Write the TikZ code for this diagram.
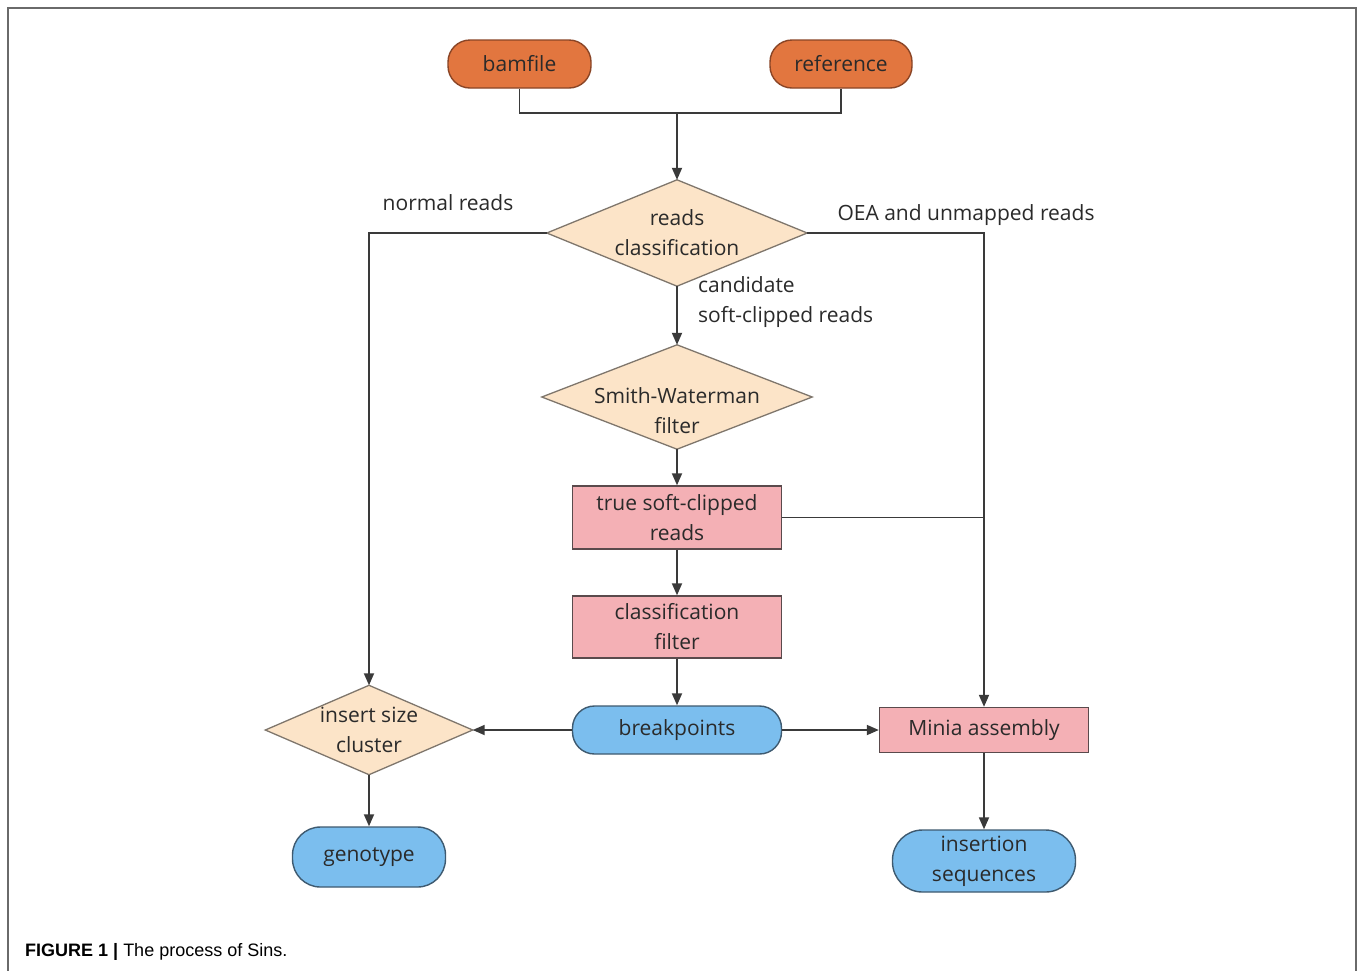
\documentclass[tikz,border=0pt]{standalone}
\usepackage{fontspec}
\setmainfont{Open Sans}
\newfontfamily\capfont{Liberation Sans}
\usetikzlibrary{arrows.meta}
\definecolor{orangefill}{HTML}{E2763F}
\definecolor{orangeline}{HTML}{8A4526}
\definecolor{peach}{HTML}{FCE4C8}
\definecolor{peachline}{HTML}{7F766C}
\definecolor{pinkfill}{HTML}{F4B0B5}
\definecolor{pinkline}{HTML}{5A4A4C}
\definecolor{bluefill}{HTML}{7BBEEE}
\definecolor{blueline}{HTML}{3E5A70}
\definecolor{linecol}{HTML}{3A3A3A}
\definecolor{txtcol}{HTML}{2A2A2A}
\definecolor{framecol}{HTML}{6A6A6A}
\tikzset{
  base/.style={inner sep=0pt, align=center, text=txtcol, font=\fontsize{21}{30}\selectfont},
  pillbox/.style={base, rounded corners=22pt, line width=1.4pt},
  startpill/.style={pillbox, fill=orangefill, draw=orangeline},
  endpill/.style={pillbox, fill=bluefill, draw=blueline},
  procbox/.style={base, fill=pinkfill, draw=pinkline, line width=1.4pt},
  decbox/.style={base},
  decshape/.style={fill=peach, draw=peachline, line width=1.3pt},
  conn/.style={draw=linecol, line width=1.8pt},
  arr/.style={conn, -{Triangle[length=12pt,width=10pt]}},
  lbl/.style={text=txtcol, font=\fontsize{21}{30}\selectfont, inner sep=0pt}
}
\begin{document}
\begin{tikzpicture}[x=1pt,y=-1pt]
\useasboundingbox (0,0) rectangle (1360,970);
\fill[white] (0,0) rectangle (1360,970);
\draw[framecol, line width=2pt] (8,972) -- (8,8) -- (1356,8) -- (1356,972);

% start nodes
\node[startpill, minimum width=143pt, minimum height=48pt] (bam) at (519.5,64) {bamfile};
\node[startpill, minimum width=142pt, minimum height=48pt] (ref) at (841,64) {reference};

% decisions
\node[decbox, minimum width=260pt, minimum height=106pt] (rc) at (677,233) {};
\draw[decshape] (rc.north) -- (rc.east) -- (rc.south) -- (rc.west) -- cycle;
\node[base] at (rc.center) {reads\\classification};

\node[decbox, minimum width=270pt, minimum height=104pt] (sw) at (677,397) {};
\draw[decshape] (sw.north) -- (sw.east) -- (sw.south) -- (sw.west) -- cycle;
\node[base] at ([yshift=-14pt]sw.center) {Smith-Waterman\\filter};

\node[decbox, minimum width=207pt, minimum height=89pt] (isc) at (369,730) {};
\draw[decshape] (isc.north) -- (isc.east) -- (isc.south) -- (isc.west) -- cycle;
\node[base] at (isc.center) {insert size\\cluster};

% process boxes
\node[procbox, minimum width=209pt, minimum height=63pt] (tsc) at (677,517.5) {true soft-clipped\\reads};
\node[procbox, minimum width=209pt, minimum height=62pt] (cf) at (677,627) {classification\\filter};
\node[procbox, minimum width=209pt, minimum height=45pt] (minia) at (984,730) {Minia assembly};

% end nodes
\node[endpill, minimum width=209pt, minimum height=48pt] (bp) at (677,730) {breakpoints};
\node[endpill, minimum width=153pt, minimum height=60pt, rounded corners=28pt] (geno) at (369,857) {genotype};
\node[endpill, minimum width=183pt, minimum height=62pt, rounded corners=30pt] (ins) at (984,861) {insertion\\sequences};

% junction coordinates
\coordinate (j) at (677,113);
\coordinate (nrc) at (isc.north |- rc.west);
\coordinate (oeac) at (minia.north |- rc.east);
\coordinate (tscj) at (minia.north |- tsc.east);

% connectors
\draw[conn] (bam.south) |- (j) -| (ref.south);
\draw[arr] (j) -- (rc.north);
\draw[arr] (rc.west) -- (nrc) -- (isc.north);
\draw[arr] (rc.east) -- (oeac) -- (minia.north);
\draw[arr] (rc.south) -- (sw.north);
\draw[arr] (sw.south) -- (tsc.north);
\draw[conn] (tsc.east) -- (tscj);
\draw[arr] (tsc.south) -- (cf.north);
\draw[arr] (cf.south) -- (bp.north);
\draw[arr] (bp.west) -- (isc.east);
\draw[arr] (bp.east) -- (minia.west);
\draw[arr] (isc.south) -- (geno.north);
\draw[arr] (minia.south) -- (ins.north);

% labels
\node[lbl] (lnormal) at (448,203) {normal reads};
\node[lbl] (loea) at (966,215) {OEA and unmapped reads};
\node[lbl, anchor=west, align=left] (lcand) at (698,302) {candidate\\soft-clipped reads};

% caption
\node[anchor=base west, inner sep=0pt, text=black, font=\capfont\fontsize{18}{22}\selectfont] (cap) at (25,956) {\textbf{FIGURE 1 |} The process of Sins.};
\end{tikzpicture}
\end{document}
